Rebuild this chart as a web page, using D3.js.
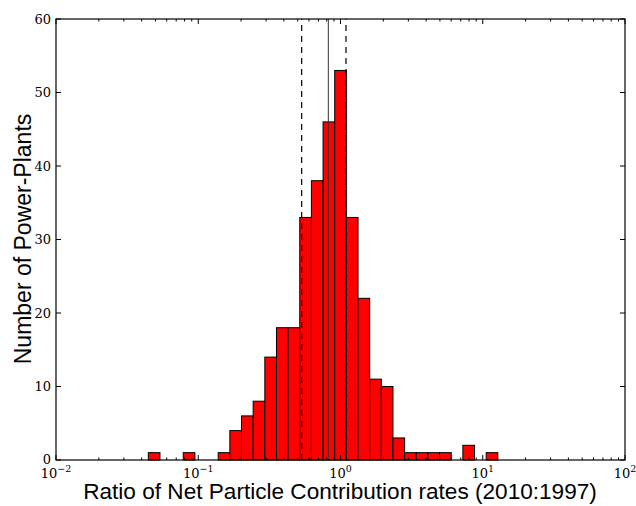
<!DOCTYPE html>
<html lang="en">
  <head>
    <meta charset="utf-8" />
    <title>Histogram of ratios</title>
    <script src="https://d3js.org/d3.v7.min.js"></script>
    <style>
      body { margin: 0; background: #fff; }
      .tick-label { font-family: "DejaVu Serif", serif; font-size: 13px; fill: #000; }
      .axis-title { font-family: "Liberation Sans", Arial, sans-serif; font-size: 22.6px; fill: #000; }
    </style>
  </head>
  <body>
    <svg width="636" height="506"></svg>
  </body>
  <script>
    // Bin edges (ratio values, equal widths in log space)
    const binEdges = [0.04457, 0.05381, 0.06497, 0.07845, 0.09476, 0.1144, 0.1381,
      0.1668, 0.2014, 0.2432, 0.2938, 0.3548, 0.4283, 0.5172, 0.6245, 0.7542,
      0.9108, 1.0998, 1.328, 1.604, 1.936, 2.338, 2.823, 3.409, 4.117, 4.971,
      6.003, 7.249, 8.754, 10.57, 12.76];
    // Counts per bin
    const counts = [1, 0, 0, 1, 0, 0, 1, 4, 6, 8, 14, 18, 18, 33, 38, 46, 53,
      33, 22, 11, 10, 3, 1, 1, 1, 1, 0, 2, 0, 1];
    // Reference lines: median (solid) and quartiles (dashed)
    const medianValue = 0.821;
    const quartiles = [0.5335, 1.093];
    const yTicks = [0, 10, 20, 30, 40, 50, 60];
    const xDecades = [-2, -1, 0, 1, 2];

    const svg = d3.select('svg');
    const pLeft = 56, pRight = 625, pTop = 19, pBottom = 460;

    const x = d3.scaleLog().domain([0.01, 100]).range([pLeft, pRight]);
    const y = d3.scaleLinear().domain([0, 60]).range([pBottom, pTop]);

    const bins = counts.map((c, i) => ({ x0: binEdges[i], x1: binEdges[i + 1], n: c }));

    // Bars
    svg.append('g').selectAll('rect')
      .data(bins.filter(d => d.n > 0))
      .join('rect')
      .attr('x', d => x(d.x0))
      .attr('y', d => y(d.n))
      .attr('width', d => x(d.x1) - x(d.x0))
      .attr('height', d => y(0) - y(d.n))
      .attr('fill', '#ff0000')
      .attr('stroke', '#000')
      .attr('stroke-width', 1);

    // Vertical lines
    svg.append('line')
      .attr('x1', x(medianValue)).attr('x2', x(medianValue))
      .attr('y1', y(0)).attr('y2', y(60))
      .attr('stroke', '#333').attr('stroke-width', 1);
    svg.selectAll('.qline')
      .data(quartiles)
      .join('line')
      .attr('class', 'qline')
      .attr('x1', d => x(d)).attr('x2', d => x(d))
      .attr('y1', y(0)).attr('y2', y(60))
      .attr('stroke', '#000').attr('stroke-width', 1.2)
      .attr('stroke-dasharray', '6,5');

    // Frame
    svg.append('rect')
      .attr('x', pLeft).attr('y', pTop)
      .attr('width', pRight - pLeft).attr('height', pBottom - pTop)
      .attr('fill', 'none').attr('stroke', '#000').attr('stroke-width', 1.2);

    // Y ticks, inward on both sides
    const yt = svg.append('g');
    yTicks.forEach(t => {
      yt.append('line').attr('x1', pLeft).attr('x2', pLeft + 5)
        .attr('y1', y(t)).attr('y2', y(t)).attr('stroke', '#000');
      yt.append('line').attr('x1', pRight).attr('x2', pRight - 5)
        .attr('y1', y(t)).attr('y2', y(t)).attr('stroke', '#000');
      yt.append('text').attr('class', 'tick-label')
        .attr('x', pLeft - 5).attr('y', y(t) + (t === 0 ? 3.5 : 4.5))
        .attr('text-anchor', 'end').text(t);
    });

    // X ticks (major and minor), inward on top and bottom
    const xt = svg.append('g');
    const minor = x.ticks().filter(v => !xDecades.includes(Math.round(Math.log10(v) * 1000) / 1000));
    minor.forEach(v => {
      xt.append('line').attr('x1', x(v)).attr('x2', x(v))
        .attr('y1', pBottom).attr('y2', pBottom - 2.5).attr('stroke', '#000');
      xt.append('line').attr('x1', x(v)).attr('x2', x(v))
        .attr('y1', pTop).attr('y2', pTop + 2.5).attr('stroke', '#000');
    });
    xDecades.forEach(p => {
      const px = x(Math.pow(10, p));
      xt.append('line').attr('x1', px).attr('x2', px)
        .attr('y1', pBottom).attr('y2', pBottom - 5).attr('stroke', '#000');
      xt.append('line').attr('x1', px).attr('x2', px)
        .attr('y1', pTop).attr('y2', pTop + 5).attr('stroke', '#000');
      const lab = xt.append('text').attr('class', 'tick-label')
        .attr('x', px).attr('y', pBottom + 17.5).attr('text-anchor', 'middle');
      lab.append('tspan').text('10');
      lab.append('tspan').attr('dy', -6).attr('font-size', 9.5)
        .text(p < 0 ? '\u2212' + Math.abs(p) : p);
    });

    // Axis titles
    svg.append('text').attr('class', 'axis-title')
      .attr('x', 340).attr('y', 499)
      .attr('text-anchor', 'middle')
      .text('Ratio of Net Particle Contribution rates (2010:1997)');
    svg.append('text').attr('class', 'axis-title')
      .attr('transform', `translate(31, 239) rotate(-90)`)
      .attr('text-anchor', 'middle')
      .style('font-size', '23px')
      .text('Number of Power-Plants');
  </script>
</html>
